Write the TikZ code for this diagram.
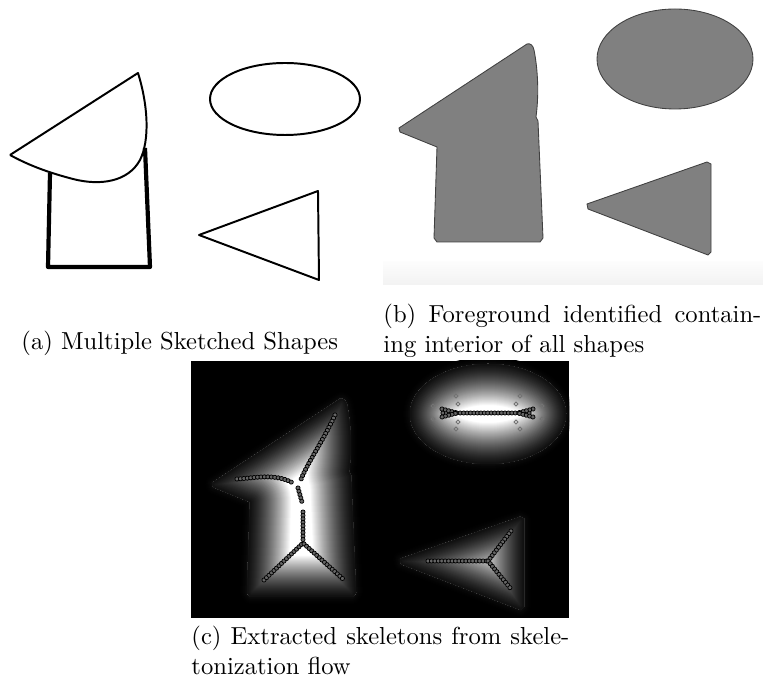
\documentclass[tikz,border=0pt]{standalone}
\usepackage{xcolor}
\usepackage{tikz}
\usetikzlibrary{decorations.markings}
\newcommand{\houseshape}{(399,128) -- (527,44) .. controls (530,43) and (533,45) .. (534,50) .. controls (538,70) and (539,95) .. (536,117) -- (538,121) -- (543,238) -- (540,242) -- (437,242) -- (434,238) -- (437,147) -- (400,132) -- cycle}
\newcommand{\eggshape}{(675,59) ellipse [x radius=78,y radius=50]}
\newcommand{\wedgeshape}{(587,204) -- (707,162) -- (711,164) -- (711,252) -- (708,255) -- (588,209) -- cycle}
% distance-like glow: soft halo outside, brighter towards the middle
\newcommand{\glowfill}[1]{%
 \foreach \ee [evaluate=\ee as \gg using {100*((8-\ee)/50)^1.6},evaluate=\ee as \lw using .813*\ee] in {7,6,...,1}
  \draw[line width=\lw pt,white!\gg!black,line join=round] #1;
 \begin{scope}
 \clip #1;
 \fill[white] #1;
 \foreach \dd [evaluate=\dd as \gg using {100*((\dd+8)/50)^1.6},evaluate=\dd as \lw using .813*\dd] in {42,41,...,1}
  \draw[line width=\lw pt,white!\gg!black,line join=round] #1;
 \end{scope}}

\begin{document}
\begin{tikzpicture}[x=.4065pt,y=-.4065pt,
 bead/.style={postaction={decorate,decoration={markings,mark=between positions 0 and 1 step 1.4pt with {\draw[black,fill=black!60,line width=.3pt] (0,0) circle (.85pt);}}}},
 sketch/.style={line width=.8pt,line join=round},
 fg/.style={fill=black!50,draw=black!75,line width=.35pt}]
\useasboundingbox (0,0) rectangle (763,688);
% (a) sketched shapes
\draw[sketch] (10,155) -- (138,73) .. controls (148,105) and (150,140) .. (140,160) .. controls (128,182) and (100,186) .. (73,179) .. controls (50,173) and (30,166) .. (10,155);
\draw[sketch,line width=1.7pt] (50,173) -- (48,267) -- (150,267) -- (145,148);
\draw[sketch] (285,99) ellipse [x radius=75,y radius=36];
\draw[sketch] (199,235) -- (318,191) -- (319,280) -- cycle;
\node[anchor=base west,inner sep=0] (capa) at (21,350) {(a) Multiple Sketched Shapes};
% (b) foreground
\shade[top color=black!1,bottom color=black!5] (383,262) rectangle (763,285);
\path[fg] \houseshape;
\path[fg] \eggshape;
\path[fg] \wedgeshape;
\node[anchor=north west,inner sep=0,align=left] (capb) at (383,304) {\makebox[153.6pt][s]{(b) Foreground identified contain-}\\ing interior of all shapes};
% (c) skeletons
\fill[black] (191,361) rectangle (569,618);
\begin{scope}
\clip (191,361) rectangle (569,618);
\begin{scope}[shift={(-187,355)}]
\glowfill{\houseshape}
\glowfill{\eggshape}
\glowfill{\wedgeshape}
\end{scope}
\end{scope}
\path[bead] (335,415) .. controls (322,443) and (306,465) .. (300,482);
\path[bead] (237,479) .. controls (255,478) and (275,473) .. (293,483);
\path[bead] (298,488) -- (302,502);
\path[bead] (303,512) -- (303,542);
\path[bead] (264,580) -- (303,543) -- (343,579);
\path[bead] (443,413) -- (532,413);
\path[bead] (442,409) -- (457,413) -- (442,417);
\path[bead] (533,409) -- (518,413) -- (533,417);
\path[bead] (428,561) -- (488,561);
\path[bead] (511,531) -- (488,561) -- (511,589);
\foreach \p in {(433,406),(433,419),(456,396),(456,429),(458,404),(458,422),(520,396),(520,429),(516,404),(516,422),(542,406),(542,419)}
 \draw[black!55,line width=.3pt] \p ++(0,-2) -- ++(2,2) -- ++(-2,2) -- ++(-2,-2) -- cycle;
\node[anchor=north west,inner sep=0,align=left] (capc) at (191,626) {\makebox[153.6pt][s]{(c) Extracted skeletons from skele-}\\tonization flow};
\end{tikzpicture}
\end{document}
